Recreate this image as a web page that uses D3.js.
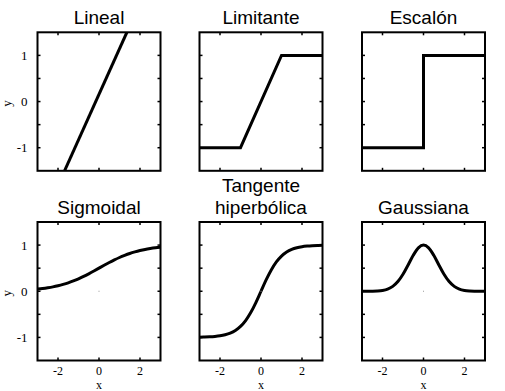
<!DOCTYPE html>
<html><head><meta charset="utf-8">
<script src="https://cdn.jsdelivr.net/npm/d3@7"></script>
<style>body{margin:0;background:#fff}svg{display:block}</style>
</head><body>
<svg id="c" width="505" height="391"></svg>
<script>
// ---- data ----
const titles = [["Lineal"], ["Limitante"], ["Escalón"], ["Sigmoidal"], ["Tangente", "hiperbólica"], ["Gaussiana"]];
const xTickLabels = [-2, 0, 2];
const yTickLabels = [-1, 0, 1];
const linealX = [-1.68, 1.36];
const linealY = [-1.5, 1.5];
const limitX = [-3, -1, 1, 3];
const limitY = [-1, -1, 1, 1];
const stepX = [-3, 0, 0, 3];
const stepY = [-1, -1, 1, 1];
const smoothX = [-3, -2.75, -2.5, -2.25, -2, -1.75, -1.5, -1.25, -1, -0.75, -0.5, -0.25, 0,
                 0.25, 0.5, 0.75, 1, 1.25, 1.5, 1.75, 2, 2.25, 2.5, 2.75, 3];
const sigmoidY = [0.047, 0.060, 0.076, 0.095, 0.119, 0.148, 0.182, 0.223, 0.269, 0.321, 0.378, 0.438, 0.5,
                  0.562, 0.622, 0.679, 0.731, 0.777, 0.818, 0.852, 0.881, 0.905, 0.924, 0.940, 0.953];
const tanhY = [-0.995, -0.992, -0.987, -0.978, -0.964, -0.941, -0.905, -0.848, -0.762, -0.635, -0.462, -0.245, 0,
               0.245, 0.462, 0.635, 0.762, 0.848, 0.905, 0.941, 0.964, 0.978, 0.987, 0.992, 0.995];
const gaussY = [0.0001, 0.0005, 0.0019, 0.0063, 0.0183, 0.0468, 0.1054, 0.2096, 0.3679, 0.5698, 0.7788, 0.9394, 1,
                0.9394, 0.7788, 0.5698, 0.3679, 0.2096, 0.1054, 0.0468, 0.0183, 0.0063, 0.0019, 0.0005, 0.0001];

const series = [
  {x: linealX, y: linealY, smooth: false},
  {x: limitX, y: limitY, smooth: false},
  {x: stepX, y: stepY, smooth: false},
  {x: smoothX, y: sigmoidY, smooth: true},
  {x: smoothX, y: tanhY, smooth: true},
  {x: smoothX, y: gaussY, smooth: true}
];

// ---- layout ----
const svg = d3.select("#c");
const lefts = [37.5, 199.5, 362];
const tops = [32.3, 222];
const W = 123, H = 138.5;
const yMinor = [-1, -0.5, 0, 0.5, 1];
const serif = "Liberation Serif, Times New Roman, serif";

series.forEach((s, i) => {
  const col = i % 3, row = Math.floor(i / 3);
  const L = lefts[col], T = tops[row];
  const x = d3.scaleLinear().domain([-3, 3]).range([L, L + W]);
  const y = d3.scaleLinear().domain([-1.5, 1.5]).range([T + H, T]);
  const g = svg.append("g");

  const clipId = "clip" + i;
  g.append("clipPath").attr("id", clipId).append("rect")
    .attr("x", L).attr("y", T).attr("width", W).attr("height", H);

  // ticks (inward, all sides)
  const tk = 3;
  xTickLabels.forEach(v => {
    g.append("line").attr("x1", x(v)).attr("x2", x(v)).attr("y1", T + H).attr("y2", T + H - tk).attr("stroke", "#000").attr("stroke-width", 1.5);
    g.append("line").attr("x1", x(v)).attr("x2", x(v)).attr("y1", T).attr("y2", T + tk).attr("stroke", "#000").attr("stroke-width", 1.5);
  });
  yMinor.forEach(v => {
    g.append("line").attr("x1", L).attr("x2", L + tk).attr("y1", y(v)).attr("y2", y(v)).attr("stroke", "#000").attr("stroke-width", 1.5);
    g.append("line").attr("x1", L + W).attr("x2", L + W - tk).attr("y1", y(v)).attr("y2", y(v)).attr("stroke", "#000").attr("stroke-width", 1.5);
  });

  // curve
  const line = d3.line().x((d, k) => x(s.x[k])).y((d, k) => y(s.y[k]))
    .curve(s.smooth ? d3.curveMonotoneX : d3.curveLinear);
  g.append("path").attr("d", line(s.x)).attr("fill", "none").attr("stroke", "#000")
    .attr("stroke-width", 3).attr("stroke-linejoin", "miter").attr("clip-path", `url(#${clipId})`);

  // center dot on bottom row
  if (row === 1) {
    g.append("rect").attr("x", x(0) - 0.5).attr("y", y(0) - 0.5).attr("width", 1).attr("height", 1).attr("fill", "#999");
  }

  // box
  g.append("rect").attr("x", L).attr("y", T).attr("width", W).attr("height", H)
    .attr("fill", "none").attr("stroke", "#000").attr("stroke-width", 2);

  // title
  const t = titles[i];
  t.forEach((txt, k) => {
    g.append("text").attr("x", L + W / 2).attr("y", T - 8 - (t.length - 1 - k) * 22)
      .attr("text-anchor", "middle").attr("font-family", "Liberation Sans, Arial, sans-serif")
      .attr("font-size", 19).text(txt);
  });

  // y labels on left column
  if (col === 0) {
    yTickLabels.forEach(v => {
      g.append("text").attr("x", L - 10).attr("y", y(v) + 4.5).attr("text-anchor", "end")
        .attr("font-family", serif).attr("font-size", 13).text(v);
    });
    g.append("text").attr("transform", `translate(${L - 27},${T + H / 2 + 2}) rotate(-90)`)
      .attr("text-anchor", "middle").attr("font-family", serif)
      .attr("font-size", 13).text("y");
  }
  // x labels on bottom row
  if (row === 1) {
    xTickLabels.forEach(v => {
      g.append("text").attr("x", x(v)).attr("y", T + H + 14).attr("text-anchor", "middle")
        .attr("font-family", serif).attr("font-size", 12).text(v);
    });
    g.append("text").attr("x", L + W / 2).attr("y", T + H + 28).attr("text-anchor", "middle")
      .attr("font-family", serif).attr("font-size", 12).text("x");
  }
});
</script>
</body></html>
